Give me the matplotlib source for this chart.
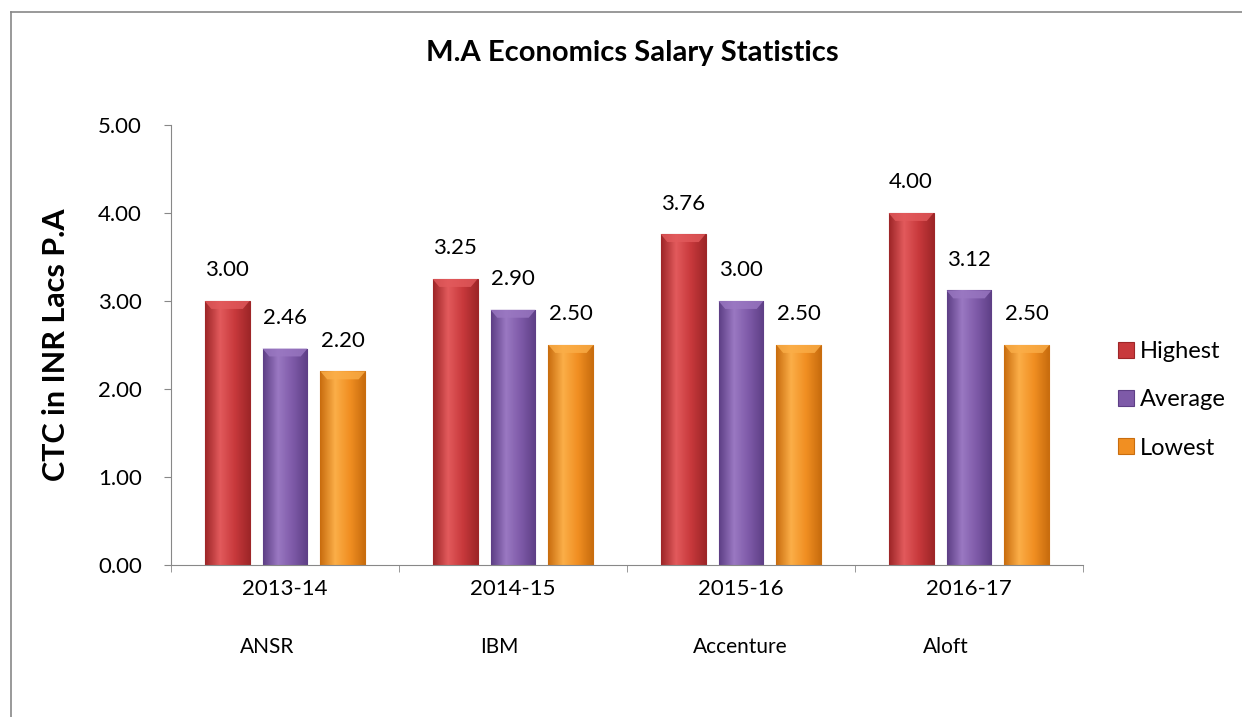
# M.A Economics salary chart, Excel-ish look

import numpy as np
import matplotlib
matplotlib.use("Agg")
import matplotlib.pyplot as plt
from matplotlib.lines import Line2D
from matplotlib.colors import LinearSegmentedColormap

plt.rcParams['font.family'] = ['Lato', 'DejaVu Sans']

# --- DATA ---
years = ["2013-14", "2014-15", "2015-16", "2016-17"]
companies = ["ANSR", "IBM", "Accenture", "Aloft"]
highest = [3.00, 3.25, 3.76, 4.00]
average = [2.46, 2.90, 3.00, 3.12]
lowest = [2.20, 2.50, 2.50, 2.50]
series_names = ["Highest", "Average", "Lowest"]

colors = ["#C8393C", "#7E5AA8", "#F18F22"]
dark = ["#9E2628", "#5E3F86", "#C96D0E"]
light = ["#E25A5C", "#9A78C2", "#FBAE48"]

fig = plt.figure(figsize=(12.42, 7.17), dpi=100)
ax = fig.add_axes([171 / 1242, 152 / 717, 912 / 1242, 440 / 717])

x = np.arange(len(years))
width = 0.197
step = 0.254

for i, (vals, name) in enumerate(zip([highest, average, lowest], series_names)):
    pos = x + (i - 1) * step
    bars = ax.bar(pos, vals, width, color=colors[i], edgecolor=dark[i],
                  linewidth=0.8, label=name, zorder=2)
    cmap = LinearSegmentedColormap.from_list("g", [dark[i], light[i], colors[i], dark[i]])
    grad = np.linspace(0, 1, 64).reshape(1, -1)
    for b, v in zip(bars, vals):
        bx, bw = b.get_x(), b.get_width()
        im = ax.imshow(grad, extent=[bx, bx + bw, 0, v], aspect='auto',
                       cmap=cmap, zorder=2.5)
        im.set_clip_path(b)
        # light bevel on top
        ax.fill([bx, bx + bw, bx + bw * 0.85, bx + bw * 0.15],
                [v, v, v - 0.09, v - 0.09], color=light[i], alpha=0.8,
                zorder=3, lw=0)
        ax.annotate(f"{v:.2f}", (b.get_x() + bw / 2, v), xytext=(0, 22),
                    textcoords="offset points", ha="center", va="center",
                    fontsize=16)

ax.set_xlim(-0.5, 3.5)
ax.set_ylim(0, 5)
ax.set_yticks(np.arange(0, 5.01, 1))
ax.set_yticklabels([f"{t:.2f}" for t in np.arange(0, 5.01, 1)], fontsize=16)
ax.set_xticks(x)
ax.set_xticklabels(years, fontsize=16)
ax.tick_params(axis='x', length=0, pad=10)
ax.set_xticks(np.arange(-0.5, 3.6, 1), minor=True)
ax.tick_params(axis='x', which='minor', length=5, color='#888888', direction='out')
ax.tick_params(axis='y', length=5, color='#888888', pad=16)

for s in ["top", "right"]:
    ax.spines[s].set_visible(False)
for s in ["left", "bottom"]:
    ax.spines[s].set_color("#888888")

ax.set_ylabel("CTC in INR Lacs P.A", fontsize=22, fontweight='bold', labelpad=20)

# company names under the years
comp_x = [-0.197, 0.855, 1.789, 2.798]
for cx, c in zip(comp_x, companies):
    ax.text(cx, -0.93, c, fontsize=15, ha='left', va='center',
            transform=ax.transData, clip_on=False)

fig.text(632 / 1242, 1 - 53 / 717, "M.A Economics Salary Statistics",
         ha='center', va='center', fontsize=21, fontweight='bold')

fig.legend(*ax.get_legend_handles_labels(), loc='center left',
           bbox_to_anchor=(1118 / 1242, 1 - 400 / 717), frameon=False,
           fontsize=17, handlelength=0.68, handleheight=0.68, handletextpad=0.25,
           labelspacing=1.15, borderpad=0, borderaxespad=0)

# outer chart border (top and left visible)
fig.add_artist(Line2D([11 / 1242, 11 / 1242], [0, 1 - 12 / 717], color='#888888', lw=1.2))
fig.add_artist(Line2D([11 / 1242, 1], [1 - 12 / 717, 1 - 12 / 717], color='#888888', lw=1.2))

fig.savefig("out.png", dpi=100)
